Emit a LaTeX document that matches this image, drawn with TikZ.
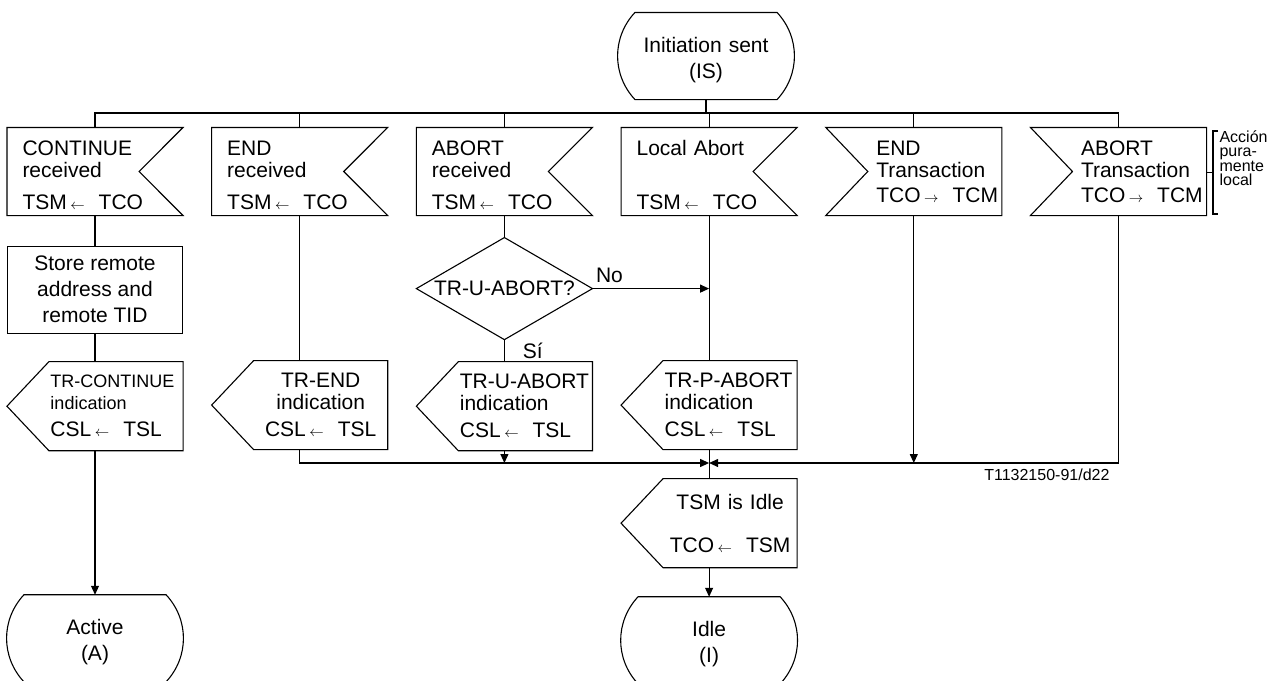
\documentclass[tikz,border=0pt]{standalone}
\usepackage{fontspec}
\setmainfont{Liberation Sans}
\usepackage{tikz}
\usetikzlibrary{arrows.meta, positioning}

\newcommand*{\sdlfrom}{\,{\fontsize{14}{14}\selectfont$\leftarrow$}\ \ }
\newcommand*{\sdlto}{\,{\fontsize{14}{14}\selectfont$\rightarrow$}\ \ }

\begin{document}
\begin{tikzpicture}[x=1pt, y=1pt, line width=1.1pt,
  every node/.style={font={\fontsize{21}{22}\selectfont\lineskiplimit=-20pt\exhyphenpenalty=10000\hyphenpenalty=10000}, inner sep=0pt},
  flowarrow/.style={-{Triangle[length=9pt, width=8pt]}},
  sdlstate/.style={minimum width=175pt, minimum height=86pt, text width=175pt, align=center,
    font={\fontsize{21}{26}\selectfont}, execute at begin node={\rule{0pt}{23pt}},
    append after command={\pgfextra{\draw
      ([xshift=17pt]\tikzlastnode.north west) -- ([xshift=-17pt]\tikzlastnode.north east)
      to[bend left=43] ([xshift=-17pt]\tikzlastnode.south east)
      -- ([xshift=17pt]\tikzlastnode.south west)
      to[bend left=43] ([xshift=17pt]\tikzlastnode.north west) -- cycle;}}},
  sdlin/.style={minimum width=175pt, minimum height=87pt, text width=175pt, align=left,
    execute at begin node={\leftskip=15pt\rule{0pt}{22pt}},
    append after command={\pgfextra{\draw (\tikzlastnode.north west) -- (\tikzlastnode.north east)
      -- ([xshift=-44pt]\tikzlastnode.east) -- (\tikzlastnode.south east)
      -- (\tikzlastnode.south west) -- cycle;}}},
  sdlinl/.style={minimum width=175pt, minimum height=87pt, text width=175pt, align=left,
    execute at begin node={\leftskip=50pt},
    append after command={\pgfextra{\draw (\tikzlastnode.north east) -- (\tikzlastnode.north west)
      -- ([xshift=42pt]\tikzlastnode.west) -- (\tikzlastnode.south west)
      -- (\tikzlastnode.south east) -- cycle;}}},
  sdlout/.style={minimum width=175pt, minimum height=88pt, text width=175pt, align=left,
    execute at begin node={\leftskip=43pt},
    append after command={\pgfextra{\draw (\tikzlastnode.north east)
      -- ([xshift=42pt]\tikzlastnode.north west) -- (\tikzlastnode.west)
      -- ([xshift=42pt]\tikzlastnode.south west) -- (\tikzlastnode.south east) -- cycle;}}},
  sdloutc/.style={sdlout,
    execute at begin node={\leftskip=42pt plus 1fil\rightskip=0pt plus 1fil\parfillskip=0pt}},
  sdltask/.style={draw, minimum width=175pt, minimum height=87pt, align=center,
    font={\fontsize{21}{26}\selectfont}},
  sdldec/.style={minimum width=175pt, minimum height=101pt, align=center,
    append after command={\pgfextra{\draw (\tikzlastnode.north) -- (\tikzlastnode.east)
      -- (\tikzlastnode.south) -- (\tikzlastnode.west) -- cycle;}}},
  sdlnote/.style={align=left, font={\fontsize{16}{14.5}\selectfont\lineskiplimit=-20pt}}]

  \useasboundingbox (0,0) rectangle (1279,-680);

  \node[sdlstate] (is) at (706,-56) {Initiation sent\\(IS)};
  \coordinate (bus) at (0,-113);

  \node[sdlin] (c1) at (95,-171.5) {CONTINUE\\received\\[10pt]TSM\sdlfrom TCO};
  \node[sdlin, right=28.6pt of c1] (c2) {END\\received\\[10pt]TSM\sdlfrom TCO};
  \node[sdlin, right=28.6pt of c2] (c3) {ABORT\\received\\[10pt]TSM\sdlfrom TCO};
  \node[sdlin, right=28.6pt of c3] (c4) {Local Abort\\[32pt]TSM\sdlfrom TCO};
  \node[sdlinl, right=28.6pt of c4] (c5) {END\\Transaction\\[3pt]TCO\sdlto TCM};
  \node[sdlinl, right=28.6pt of c5] (c6) {ABORT\\Transaction\\[3pt]TCO\sdlto TCM};

  \node[sdltask, below=30pt of c1] (store) {Store remote\\address and\\remote TID};
  \node[sdlout, below=28pt of store] (tcont) {\fontsize{18}{22}\selectfont TR-CONTINUE\\indication\\[5pt]\fontsize{21}{22}\selectfont CSL\sdlfrom TSL};
  \node[sdlstate, below=144pt of tcont] (active) {Active\\(A)};
  \node[sdloutc, below=145pt of c2] (tend) {TR-END\\indication\\[5pt]CSL\sdlfrom TSL};
  \node[sdldec, below=22pt of c3] (dec) {TR-U-ABORT?};
  \node[sdlout, below=22pt of dec] (tuab) {TR-U-ABORT\\indication\\[5pt]CSL\sdlfrom TSL};
  \node[sdlout, below=145pt of c4] (tpab) {TR-P-ABORT\\indication\\[5pt]CSL\sdlfrom TSL};
  \node[sdloutc, below=29pt of tpab] (tidle) {TSM is Idle\\[21pt]TCO\sdlfrom TSM};
  \node[sdlstate, below=29pt of tidle] (idle) {Idle\\(I)};
  \coordinate (join) at (c4 |- 0,-463);

  \node[sdlnote, anchor=west] (note) at (1219,-158) {Acción\\pura-\\mente\\local};
  \node[anchor=base east, font={\fontsize{16}{16}\selectfont}] (fig) at (1110,-480) {T1132150-91/d22};

  \draw (is) -- (is |- bus);
  \draw (c1.north) |- (bus -| c6.north) -- (c6.north);
  \draw (c2.north) -- (c2.north |- bus);
  \draw (c3.north) -- (c3.north |- bus);
  \draw (c4.north) -- (c4.north |- bus);
  \draw (c5.north) -- (c5.north |- bus);

  \draw (c1) -- (store);
  \draw (store) -- (tcont);
  \draw[flowarrow] (tcont) -- (active);
  \draw (c2) -- (tend);
  \draw[flowarrow] (tend.south) |- (join);
  \draw (c3) -- (dec);
  \draw (dec) -- node[right=18pt] {Sí} (tuab);
  \draw[flowarrow] (dec.east) -- node[pos=0, anchor=south west, xshift=3pt, yshift=5pt] {No} (dec.east -| c4);
  \draw[flowarrow] (tuab.south) -- (tuab.south |- join);
  \draw (c4) -- (tpab);
  \draw (tpab) -- (tidle);
  \draw[flowarrow] (tidle) -- (idle);
  \draw[flowarrow] (c5) -- (c5 |- join);
  \draw[flowarrow] (c6.south) |- (join);

  \draw[line width=1.6pt] (1218,-131) -| (1213,-214) -- (1218,-214);
  \draw (1207,-172.5) -- (1213,-172.5);
\end{tikzpicture}
\end{document}
